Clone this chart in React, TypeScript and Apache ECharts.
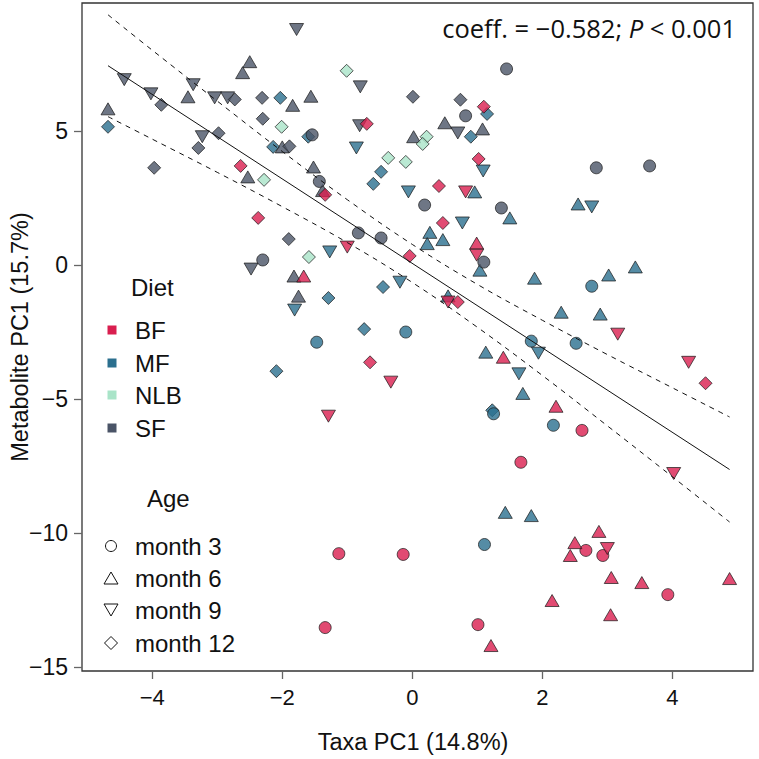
import React, { useEffect, useRef } from "react";
import * as echarts from "echarts";

// [taxa PC1, metabolite PC1, age in months]
type Pt = [number, number, number];

const BF: Pt[] = [
  [-2.64, 3.7, 12], [-1.34, 2.62, 12], [-0.7, 5.27, 12], [1.1, 5.91, 12], [1.02, 3.96, 12],
  [0.41, 2.95, 12], [-2.37, 1.76, 12], [0.47, 1.57, 12], [-0.04, 0.34, 12], [0.7, -1.38, 12],
  [-0.65, -3.63, 12], [4.51, -4.41, 12],
  [1.67, -7.36, 3], [2.61, -6.17, 3], [-1.13, -10.77, 3], [-0.14, -10.8, 3], [-1.34, -13.53, 3],
  [1.01, -13.42, 3], [2.67, -10.65, 3], [2.93, -10.84, 3], [3.93, -12.3, 3],
  [-1.67, -0.41, 6], [0.99, 0.82, 6], [1.4, -3.44, 6], [2.21, -5.27, 6], [2.87, -9.94, 6],
  [2.5, -10.36, 6], [2.43, -10.84, 6], [3.06, -11.66, 6], [3.53, -11.85, 6], [4.88, -11.7, 6],
  [2.15, -12.52, 6], [3.05, -13.05, 6], [1.21, -14.2, 6],
  [-1.0, 0.67, 9], [0.82, 2.73, 9], [0.99, 0.37, 9], [0.55, -1.38, 9], [-0.33, -4.37, 9],
  [-1.29, -5.64, 9], [3.16, -2.58, 9], [4.25, -3.63, 9], [4.02, -7.78, 9], [3.0, -10.58, 9],
];

const MF: Pt[] = [
  [-4.68, 5.16, 12], [-2.03, 6.24, 12], [-2.14, 4.41, 12], [-1.6, 4.79, 12], [1.15, 5.64, 12],
  [0.9, 4.79, 12], [-0.48, 3.48, 12], [-0.6, 3.03, 12], [-0.45, -0.82, 12], [-1.29, -1.23, 12],
  [-0.74, -2.39, 12], [-2.09, -3.96, 12], [1.23, -5.42, 12],
  [-0.1, -2.5, 3], [-1.47, -2.88, 3], [2.76, -0.79, 3], [1.83, -2.84, 3], [2.52, -2.92, 3],
  [1.25, -5.55, 3], [2.17, -5.98, 3], [1.11, -10.43, 3],
  [0.96, 2.73, 6], [1.5, 1.76, 6], [0.27, 1.22, 6], [0.47, 0.95, 6], [0.23, 0.8, 6],
  [1.04, -0.19, 6], [0.55, -1.15, 6], [2.55, 2.28, 6], [1.88, -0.49, 6], [3.02, -0.37, 6],
  [3.43, -0.07, 6], [2.29, -1.76, 6], [2.89, -1.83, 6], [1.13, -3.25, 6], [1.7, -4.79, 6],
  [1.43, -9.23, 6], [1.83, -9.35, 6],
  [-0.86, 4.37, 9], [1.09, 3.51, 9], [-0.06, 2.73, 9], [0.77, 1.57, 9], [-1.27, 0.49, 9],
  [-0.19, -0.64, 9], [-1.81, -1.68, 9], [2.76, 2.17, 9], [1.94, -3.29, 9], [1.64, -4.06, 9],
];

const NLB: Pt[] = [
  [-1.01, 7.25, 12], [-2.01, 5.16, 12], [-2.28, 3.18, 12], [0.22, 4.79, 12], [0.16, 4.52, 12],
  [-0.37, 4.0, 12], [-0.1, 3.85, 12], [-1.59, 0.3, 12],
];

const SF: Pt[] = [
  [-1.78, 8.79, 9], [-4.43, 6.92, 9], [-4.02, 6.39, 9], [-3.37, 6.73, 9], [-3.04, 6.24, 9],
  [-2.84, 6.24, 9], [-3.23, 4.79, 9], [-0.8, 6.65, 9], [-0.81, 5.2, 9], [0.7, 4.93, 9],
  [-2.48, -0.15, 9],
  [-2.5, 7.59, 6], [-2.61, 7.18, 6], [-3.45, 6.28, 6], [-1.84, 5.96, 6], [-1.56, 6.3, 6],
  [-4.68, 5.83, 6], [-2.0, 4.41, 6], [-2.53, 3.29, 6], [-1.52, 3.66, 6], [-1.38, 2.78, 6],
  [0.02, 4.79, 6], [0.5, 5.31, 6], [1.08, 5.08, 6], [-1.82, -0.41, 6], [-1.75, -1.16, 6],
  [-3.86, 5.98, 12], [-2.73, 6.18, 12], [-2.31, 6.24, 12], [-2.3, 5.46, 12], [-2.98, 4.92, 12],
  [-3.29, 4.37, 12], [-1.89, 4.43, 12], [-3.97, 3.63, 12], [0.01, 6.28, 12], [0.74, 6.17, 12],
  [-1.9, 0.97, 12],
  [-1.54, 4.86, 3], [-1.43, 3.12, 3], [0.82, 5.57, 3], [1.45, 7.32, 3], [0.19, 2.24, 3],
  [1.37, 2.13, 3], [-0.83, 1.2, 3], [-0.48, 1.01, 3], [1.1, 0.11, 3], [-2.3, 0.19, 3],
  [2.83, 3.63, 3], [3.65, 3.7, 3],
];

const DIET_NAMES = ["BF", "MF", "NLB", "SF"];
const DIET_COLORS = ["#D91E4F", "#2B6F8E", "#A9E4C8", "#4A5467"];
const AGE_LABELS = ["month 3", "month 6", "month 9", "month 12"];

// fitted regression line and its confidence band
const FIT_X = [-4.68, 4.88];
const FIT_Y = [7.44, -7.63];
const BAND_X = [-4.68, -4, -3, -2, -1, 0, 1, 2, 3, 4, 4.88];
const BAND_UPPER = [9.34, 8.02, 6.12, 4.24, 2.44, 0.77, -0.72, -2.06, -3.34, -4.58, -5.67];
const BAND_LOWER = [5.54, 4.7, 3.46, 2.18, 0.84, -0.65, -2.32, -4.12, -6.0, -7.9, -9.59];

const X_TICKS = [-4, -2, 0, 2, 4];
const Y_TICKS = [-15, -10, -5, 0, 5];

const FONT = "'Liberation Sans', Arial, sans-serif";

const fmt = (v: number) => (v < 0 ? "\u2212" + Math.abs(v) : String(v));

function symbolFor(age: number) {
  if (age === 3) return { symbol: "circle", symbolSize: 12, symbolRotate: 0 };
  if (age === 6) return { symbol: "triangle", symbolSize: [14, 12], symbolRotate: 0 };
  if (age === 9) return { symbol: "triangle", symbolSize: [14, 12], symbolRotate: 180 };
  return { symbol: "diamond", symbolSize: [13, 13], symbolRotate: 0 };
}

export default function App() {
  const ref = useRef<HTMLDivElement>(null);
  useEffect(() => {
    if (!ref.current) return;
    const chart = echarts.init(ref.current, undefined, { renderer: "svg" });
    const groups: Record<string, Pt[]> = { BF, MF, NLB, SF };
    const drawOrder = ["MF", "SF", "NLB", "BF"];
    const scatterSeries = drawOrder.map((name) => {
      const color = DIET_COLORS[DIET_NAMES.indexOf(name)];
      return {
        type: "scatter",
        name,
        z: 3,
        itemStyle: { color, borderColor: "#1a1a1a", borderWidth: 0.9 },
        data: groups[name].map(([x, y, age]) => ({ value: [x, y], ...symbolFor(age) })),
      };
    });

    const legendGraphics: any[] = [
      { type: "text", left: 131, top: 275, style: { text: "Diet", font: `24px ${FONT}`, fill: "#111" } },
      { type: "text", left: 147, top: 486, style: { text: "Age", font: `24px ${FONT}`, fill: "#111" } },
    ];
    const dietY = [330, 363, 395, 428];
    DIET_NAMES.forEach((n, i) => {
      legendGraphics.push({
        type: "rect",
        shape: { x: 107.5, y: dietY[i] - 4.5, width: 9, height: 9 },
        style: { fill: DIET_COLORS[i] },
      });
      legendGraphics.push({
        type: "text",
        x: 135,
        y: dietY[i],
        style: { text: n, font: `24px ${FONT}`, fill: "#111", verticalAlign: "middle" },
      });
    });
    const ageY = [546, 578, 610, 643];
    const sym = { fill: "none", stroke: "#111", lineWidth: 1 };
    legendGraphics.push({ type: "circle", shape: { cx: 111, cy: ageY[0], r: 5.5 }, style: sym });
    legendGraphics.push({
      type: "polygon",
      shape: { points: [[104, ageY[1] + 6], [118, ageY[1] + 6], [111, ageY[1] - 6]] },
      style: sym,
    });
    legendGraphics.push({
      type: "polygon",
      shape: { points: [[104, ageY[2] - 6], [118, ageY[2] - 6], [111, ageY[2] + 6]] },
      style: sym,
    });
    legendGraphics.push({
      type: "polygon",
      shape: { points: [[111, ageY[3] - 6.5], [117.5, ageY[3]], [111, ageY[3] + 6.5], [104.5, ageY[3]]] },
      style: sym,
    });
    AGE_LABELS.forEach((t, i) => {
      legendGraphics.push({
        type: "text",
        x: 135,
        y: ageY[i],
        style: { text: t, font: `24px ${FONT}`, fill: "#111", verticalAlign: "middle" },
      });
    });

    const option: any = {
      animation: false,
      backgroundColor: "#fff",
      grid: {
        left: 82,
        top: 3,
        right: 6,
        bottom: 88,
        show: true,
        borderColor: "#333",
        borderWidth: 1.3,
      },
      xAxis: {
        type: "value",
        position: "bottom",
        min: -5.08,
        max: 5.24,
        splitLine: { show: false },
        axisLine: { show: false, onZero: false },
        axisTick: { show: true, length: 8, inside: false, lineStyle: { color: "#666", width: 1.3 }, customValues: X_TICKS },
        axisLabel: {
          customValues: X_TICKS,
          formatter: fmt,
          margin: 15,
          fontSize: 22,
          fontFamily: FONT,
          color: "#111",
        },
      },
      yAxis: {
        type: "value",
        position: "left",
        min: -15.15,
        max: 9.78,
        splitLine: { show: false },
        axisLine: { show: false, onZero: false },
        axisTick: { show: true, length: 8, inside: false, lineStyle: { color: "#666", width: 1.3 }, customValues: Y_TICKS },
        axisLabel: {
          customValues: Y_TICKS,
          formatter: fmt,
          margin: 14,
          fontSize: 23,
          fontFamily: FONT,
          color: "#111",
        },
      },
      series: [
        ...scatterSeries,
        {
          type: "line",
          z: 5,
          showSymbol: false,
          silent: true,
          data: FIT_X.map((x, i) => [x, FIT_Y[i]]),
          lineStyle: { color: "#111", width: 1 },
        },
        {
          type: "line",
          z: 5,
          showSymbol: false,
          silent: true,
          smooth: 0.4,
          data: BAND_X.map((x, i) => [x, BAND_UPPER[i]]),
          lineStyle: { color: "#111", width: 1, type: [5, 5] },
        },
        {
          type: "line",
          z: 5,
          showSymbol: false,
          silent: true,
          smooth: 0.4,
          data: BAND_X.map((x, i) => [x, BAND_LOWER[i]]),
          lineStyle: { color: "#111", width: 1, type: [5, 5] },
        },
      ],
      graphic: [
        {
          type: "text",
          x: 413,
          y: 742,
          style: {
            text: "Taxa PC1 (14.8%)",
            font: `23.5px ${FONT}`,
            fill: "#111",
            align: "center",
            verticalAlign: "middle",
          },
        },
        {
          type: "text",
          x: 20,
          y: 337,
          rotation: Math.PI / 2,
          style: {
            text: "Metabolite PC1 (15.7%)",
            font: `23.5px ${FONT}`,
            fill: "#111",
            align: "center",
            verticalAlign: "middle",
          },
        },
        {
          type: "text",
          x: 736,
          y: 28,
          style: {
            text: "{a|coeff. = \u22120.582; }{i|P}{a| < 0.001}",
            align: "right",
            verticalAlign: "middle",
            rich: {
              a: { fontSize: 25.5, fontFamily: "'Open Sans', sans-serif", fill: "#111", color: "#111" },
              i: { fontSize: 25.5, fontFamily: "'Open Sans', sans-serif", fontStyle: "italic", fill: "#111", color: "#111" },
            },
          },
        },
        ...legendGraphics,
      ],
    };
    chart.setOption(option);
    return () => chart.dispose();
  }, []);
  return (
    <div
      ref={ref}
      style={{ position: "fixed", left: 0, top: 0, width: 759, height: 759, background: "#fff" }}
    />
  );
}
